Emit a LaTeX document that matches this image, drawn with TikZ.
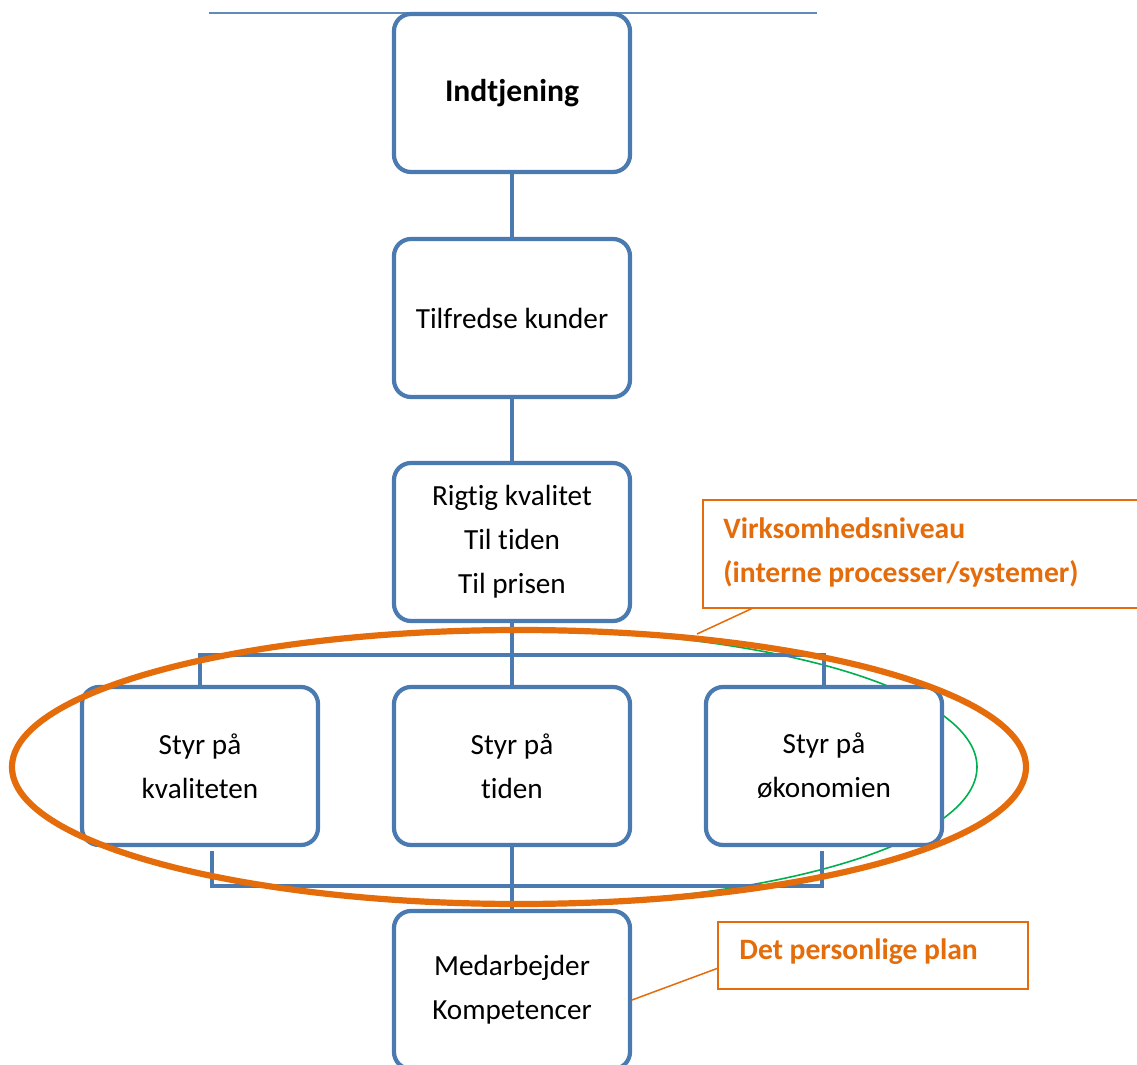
\documentclass[tikz,border=0pt]{standalone}
\usepackage{fontspec}
\setmainfont{Carlito}[Ligatures=NoCommon]
\definecolor{boxblue}{RGB}{74,122,176}
\definecolor{lineblue}{RGB}{96,138,186}
\definecolor{calorange}{RGB}{228,108,10}
\definecolor{grn}{RGB}{0,176,80}
\begin{document}
\begin{tikzpicture}[x=0.5pt,y=-0.5pt,
  box/.style={draw=boxblue, line width=2.1pt, fill=white, rounded corners=8.5pt,
    minimum width=118pt, minimum height=79pt, align=center,
    font=\fontsize{14.6}{22}\selectfont, inner sep=0pt},
  conn/.style={draw=boxblue, line width=2.1pt},
  callout/.style={draw=calorange, line width=0.75pt, fill=white, inner sep=0pt},
  pointer/.style={draw=calorange, line width=0.75pt},
  ctext/.style={text=calorange, font=\fontsize{14.8}{22}\selectfont\bfseries,
    align=left, anchor=west, inner sep=0pt}
]
\useasboundingbox (0,0) rectangle (1137,1065);
\clip (0,0) rectangle (1137,1065);
\fill[white] (0,0) rectangle (1137,1065);

% thin top line
\coordinate (tla) at (209,13);
\coordinate (tlb) at (817,13);
\draw[lineblue, line width=0.6pt] (tla) -- (tlb);

% green arc
\draw[grn, line width=0.8pt] (515,630) arc[start angle=-90, end angle=90, x radius=462, y radius=137];

% boxes
\node[box] (b1) at (512,93) {\fontsize{15.8}{22}\selectfont\bfseries Indtjening\strut};
\node[box] (b2) at (512,318) {Tilfredse kunder};
\node[box] (b3) at (512,542) {Rigtig kvalitet\\Til tiden\\Til prisen};
\node[box] (bl) at (200,766) {Styr på\\kvaliteten};
\node[box] (bm) at (512,766) {Styr på\\tiden};
\node[box] (br) at (824,766) {Styr på\\økonomien};
\node[box] (b5) at (512,990) {Medarbejder\\Kompetencer};

% connectors
\coordinate (tl) at (200,655);
\coordinate (tr) at (824,655);
\coordinate (q1) at (212,851);
\coordinate (q2) at (212,886);
\coordinate (q3) at (822,886);
\coordinate (q4) at (822,851);
\draw[conn] (b1) -- (b2);
\draw[conn] (b2) -- (b3);
\draw[conn] (b3) -- (bm);
\draw[conn] (bm) -- (b5);
\draw[conn] (bl.north) -- (tl) -- (tr) -- (br.north);
\draw[conn] (q1) -- (q2) -- (q3) -- (q4);

% orange ellipse
\draw[calorange, line width=3.1pt] (519,767) ellipse [x radius=507, y radius=137];

% callout 1
\node[callout, minimum width=224pt, minimum height=54pt, anchor=north west] (c1) at (702,499) {};
\node[ctext] (c1t) at (723,552) {Virksomhedsniveau\\(interne processer/systemer)};
\coordinate (p1) at (697,634);
\draw[pointer] ([xshift=25pt]c1.south west) -- (p1);

% callout 2
\node[callout, minimum width=155pt, minimum height=33.5pt, anchor=north west] (c2) at (717,921) {};
\node[ctext] (c2t) at (739,952) {Det personlige plan};
\coordinate (p2) at (632,1000);
\draw[pointer] ([yshift=10.5pt]c2.south west) -- (p2);
\end{tikzpicture}
\end{document}
